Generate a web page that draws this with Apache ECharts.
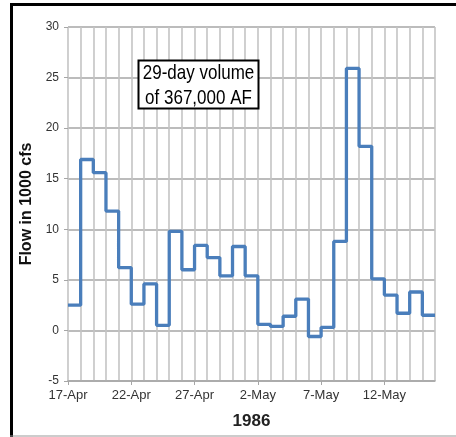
<!DOCTYPE html>
<html>
<head>
<meta charset="utf-8">
<script src="https://cdn.jsdelivr.net/npm/echarts@6/dist/echarts.min.js"></script>
<style>html,body{margin:0;padding:0;background:#fff}#c{width:456px;height:437px}</style>
</head>
<body>
<div id="c"></div>
<script>
// Daily flow (1000 cfs), 17-Apr ... 15-May 1986 (29 days)
var dayIndex = [0,1,2,3,4,5,6,7,8,9,10,11,12,13,14,15,16,17,18,19,20,21,22,23,24,25,26,27,28];
var flows = [2.5,16.9,15.6,11.8,6.2,2.6,4.6,0.5,9.8,6.0,8.4,7.2,5.4,8.3,5.4,0.6,0.4,1.4,3.1,-0.6,0.3,8.8,25.9,18.2,5.1,3.5,1.7,3.8,1.5];
var tickDays = [0,5,10,15,20,25];
var tickLabels = ['17-Apr','22-Apr','27-Apr','2-May','7-May','12-May'];
var yTicks = [-5,0,5,10,15,20,25,30];
var annotationLines = ['29-day volume','of 367,000 AF'];

var data = dayIndex.map(function(d,i){return [d, flows[i]];});
data.push([dayIndex.length, flows[flows.length-1]]); // end of last day

var chart = echarts.init(document.getElementById('c'), null, {renderer:'canvas'});
var font = 'Liberation Sans, Arial, sans-serif';
chart.setOption({
  animation:false,
  backgroundColor:'#fff',
  grid:{left:68,right:21,top:27,bottom:56},
  xAxis:[{
    type:'value', min:0, max:dayIndex.length, interval:1,
    axisLine:{show:false}, axisTick:{show:false}, axisLabel:{show:false},
    splitLine:{show:true, lineStyle:{color:'#c4c4c4', width:1.6}}
  },{
    type:'value', min:0, max:dayIndex.length, interval:5, position:'bottom',
    name:'1986', nameLocation:'middle', nameGap:32,
    nameTextStyle:{fontFamily:font, fontWeight:'bold', fontSize:17, color:'#222'},
    axisLine:{show:true, lineStyle:{color:'#a6a6a6', width:1.5}},
    axisTick:{show:true, length:4, lineStyle:{color:'#a6a6a6'}},
    splitLine:{show:false},
    axisLabel:{margin:8, fontFamily:font, fontSize:13, color:'#333', showMaxLabel:false,
      formatter:function(v){var k=tickDays.indexOf(v);return k>=0?tickLabels[k]:'';}}
  }],
  yAxis:{
    type:'value', min:yTicks[0], max:yTicks[yTicks.length-1], interval:5,
    name:'Flow in 1000 cfs', nameLocation:'middle', nameGap:31,
    nameTextStyle:{fontFamily:font, fontWeight:'bold', fontSize:16, color:'#111'},
    axisLine:{show:false},
    axisTick:{show:true, length:4, lineStyle:{color:'#a6a6a6'}},
    axisLabel:{margin:9, fontFamily:font, fontSize:12, color:'#333'},
    splitLine:{show:true, lineStyle:{color:'#a6a6a6', width:1.5}}
  },
  series:[{
    type:'line', xAxisIndex:0, step:'end', data:data, showSymbol:false,
    lineStyle:{color:'#4a7ebb', width:3.3}, itemStyle:{color:'#4a7ebb'}
  }],
  graphic:[
    {type:'line', shape:{x1:11.5,y1:3,x2:11.5,y2:437}, style:{stroke:'#000',lineWidth:3}},
    {type:'line', shape:{x1:10,y1:4.5,x2:456,y2:4.5}, style:{stroke:'#000',lineWidth:3}},
    {type:'line', shape:{x1:10,y1:436,x2:456,y2:436}, style:{stroke:'#999',lineWidth:1}},
    {type:'rect', shape:{x:138.5,y:60.5,width:120,height:48}, style:{fill:'#fff',stroke:'#000',lineWidth:2}, z:100},
    {type:'text', x:198.5, y:73.5, scaleY:1.2, z:101, style:{text:annotationLines[0], font:'17px '+font, fill:'#000', textAlign:'center', textVerticalAlign:'middle'}},
    {type:'text', x:198.5, y:98.5, scaleY:1.2, z:101, style:{text:annotationLines[1], font:'17px '+font, fill:'#000', textAlign:'center', textVerticalAlign:'middle'}}
  ]
});
</script>
</body>
</html>
